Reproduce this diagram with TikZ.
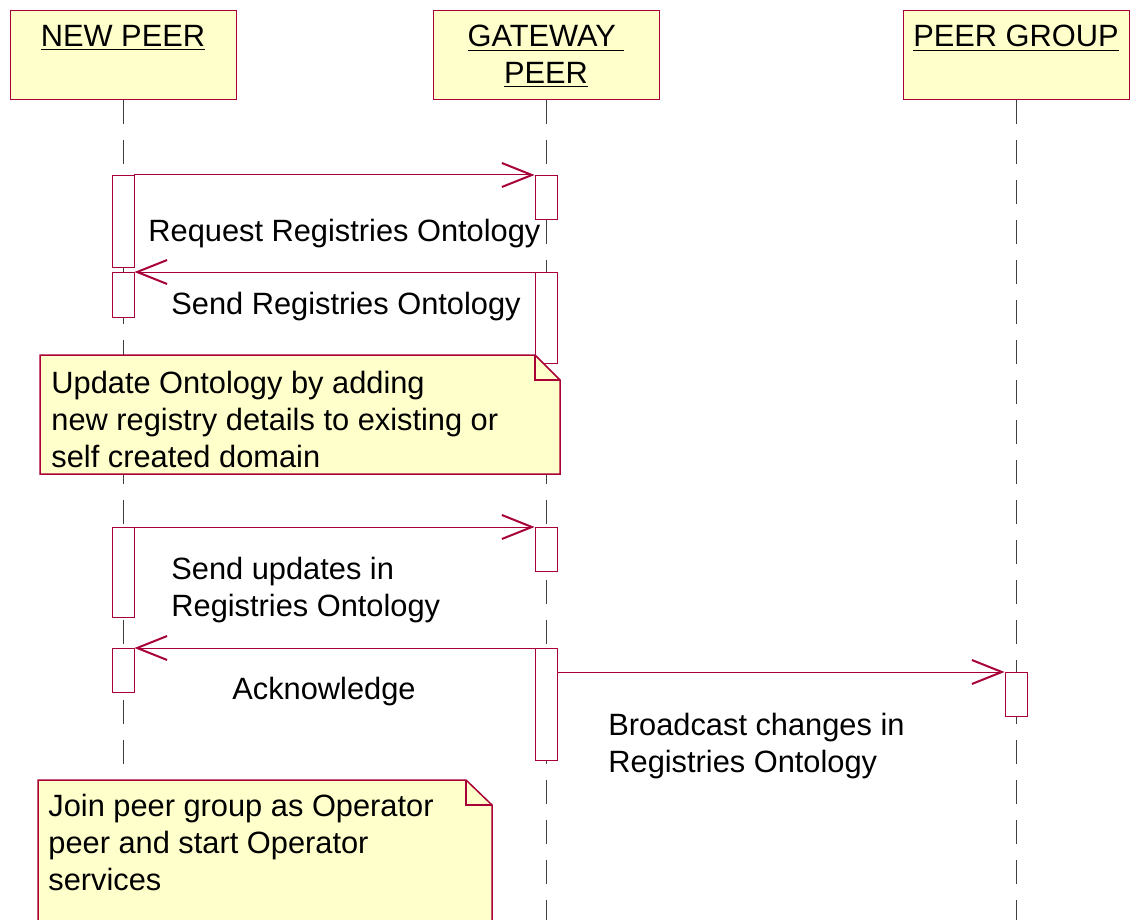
\documentclass[tikz,border=0pt]{standalone}
\usepackage{fontspec}
\setmainfont{Liberation Sans}
\usepackage{tikz}
\usetikzlibrary{arrows.meta,positioning}
\definecolor{umlred}{RGB}{168,0,54}
\definecolor{umlfill}{RGB}{255,255,204}
\tikzset{>/.tip={Straight Barb[length=15pt,width=12pt,line width=1pt]}}
\tikzset{
  head/.style={draw=umlred,fill=umlfill,minimum width=113pt,minimum height=44.5pt,anchor=north,inner sep=0pt},
  headtxt/.style={align=center,inner sep=0pt},
  bar/.style={draw=umlred,fill=white,minimum width=11pt,anchor=north,inner sep=0pt},
  life/.style={black!75,dash pattern=on 12pt off 8pt,line width=0.5pt},
  msg/.style={->,umlred,line width=0.5pt},
  note/.style={draw=umlred,fill=umlfill,line width=0.75pt},
  txt/.style={anchor=west,align=left,inner sep=0pt}
}
\newcommand\msgfont{\fontsize{15.4}{18.5}\selectfont}

\begin{document}
\begin{tikzpicture}[x=0.5pt,y=-0.5pt,font=\msgfont]
  \useasboundingbox (0,0) rectangle (1131,920);
  % lifeline heads
  \node[head] (np) at (123,10) {};
  \node[head] (gw) at (546,10) {};
  \node[head] (pg) at (1016,10) {};
  \node[headtxt,below=7.5pt of np.north] (npt) {\underline{NEW PEER}};
  \node[headtxt,below=7.5pt of gw.north] (gwt) {\underline{GATEWAY~}\\\underline{PEER}};
  \node[headtxt,below=7.5pt of pg.north] (pgt) {\underline{PEER GROUP}};
  % lifelines
  \coordinate (npe) at (123,930);
  \coordinate (gwe) at (546,930);
  \coordinate (pge) at (1016,930);
  \draw[life] (np.south) -- (npe);
  \draw[life] (gw.south) -- (gwe);
  \draw[life] (pg.south) -- (pge);
  % activations
  \node[bar,minimum height=46pt] (np1) at (123,175) {};
  \node[bar,minimum height=22.5pt] (np2) at (123,272) {};
  \node[bar,minimum height=45pt] (np3) at (123,527) {};
  \node[bar,minimum height=22pt] (np4) at (123,648) {};
  \node[bar,minimum height=22pt] (gw1) at (546,175) {};
  \node[bar,minimum height=45.5pt] (gw2) at (546,272) {};
  \node[bar,minimum height=22pt] (gw3) at (546,527) {};
  \node[bar,minimum height=56pt] (gw4) at (546,648) {};
  \node[bar,minimum height=22pt] (pg1) at (1016,672) {};
  % messages
  \draw[msg] (np1.north east) -- (gw1.north west);
  \draw[msg] (gw2.north west) -- (np2.north east);
  \draw[msg] (np3.north east) -- (gw3.north west);
  \draw[msg] (gw4.north west) -- (np4.north east);
  \draw[msg] (gw4.east |- pg1.north west) -- (pg1.north west);
  \node[txt] (req) at (148,234) {Request Registries Ontology};
  \node[txt] (snd) at (171,307) {Send Registries Ontology};
  \node[txt] (upd) at (171,590) {Send updates in\\Registries Ontology};
  \node[txt] (ack) at (232,692) {Acknowledge};
  \node[txt] (bc) at (608,746) {Broadcast changes in\\Registries Ontology};
  % notes
  \draw[note] (40,355) -- (535,355) -- (560,380) -- (560,474) -- (40,474) -- cycle;
  \draw[note,fill=none] (535,355) -- (535,380) -- (560,380);
  \node[txt] (n1) at (51,419) {Update Ontology by adding\\new registry details to existing or\\self created domain};
  \draw[note] (38,780) -- (466,780) -- (492,805) -- (492,935) -- (38,935) -- cycle;
  \draw[note,fill=none] (466,780) -- (466,805) -- (492,805);
  \node[txt] (n2) at (48,842) {Join peer group as Operator\\peer and start Operator\\services};
\end{tikzpicture}
\end{document}
